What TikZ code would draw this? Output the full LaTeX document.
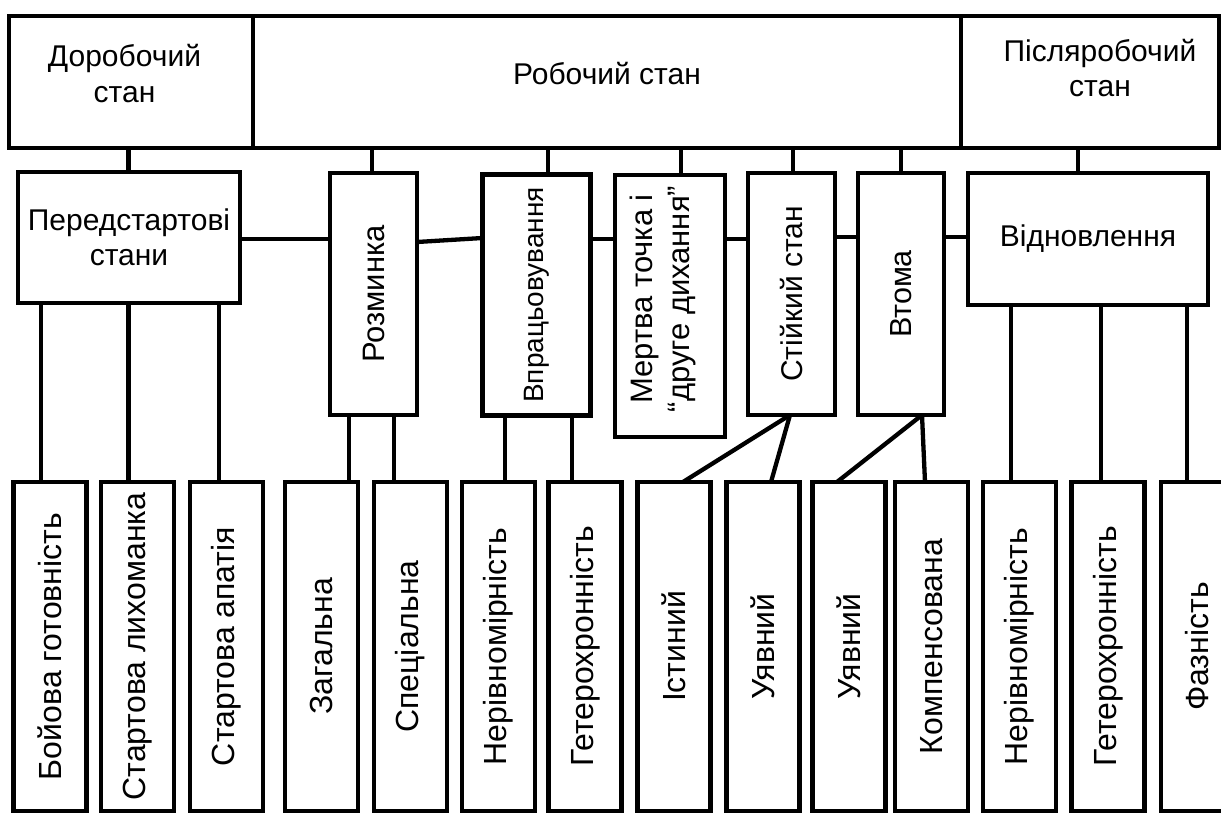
\documentclass[tikz,border=0pt]{standalone}
\usepackage{fontspec}
\setmainfont{Liberation Sans}
\usepackage{graphicx}
\newcommand\fsz{\fontsize{30}{35.5}\selectfont}
\newcommand\fbig{\fontsize{32}{37}\selectfont}
\newcommand\rtx[1]{\rotatebox{90}{#1}}
\begin{document}
\begin{tikzpicture}[x=1pt,y=-1pt,
  bx/.style={draw,line width=4.5pt,inner sep=0pt,outer sep=0pt,align=center,font=\fsz},
  bot/.style={bx,minimum width=73pt,minimum height=329pt,font=\fbig},
  ln/.style={line width=4.3pt},
  txt/.style={inner sep=0pt,align=center,font=\fsz}]
\useasboundingbox (0,0) rectangle (1221,813);
% top band
\node[bx,minimum width=244pt,minimum height=132pt] (dor) at (131,82) {};
\node[bx,minimum width=708pt,minimum height=132pt] (rob) at (607,82) {};
\node[bx,minimum width=258pt,minimum height=132pt] (pisl) at (1090,82) {};
\node[txt] (tdor) at (124.5,73.5) {Доробочий\\стан};
\node[txt] (trob) at (607,74) {Робочий стан};
\node[txt] (tpisl) at (1100,68) {Післяробочий\\стан};
% second row
\node[bx,minimum width=222pt,minimum height=131pt] (pered) at (129,237.5) {Передстартові\\стани};
\node[bx,minimum width=87pt,minimum height=242pt] (rozm) at (373.5,294) {\rtx{\fontsize{31}{36}\selectfont Розминка}};
\node[bx,minimum width=108pt,minimum height=241pt] (vprac) at (536.5,295) {\rtx{\fontsize{28}{32}\selectfont Впрацьовування}};
\node[bx,minimum width=110pt,minimum height=262pt] (mert) at (670,306) {};
\node[txt,rotate=90,font=\fontsize{31}{36.5}\selectfont] (tmert) at (663,299) {Мертва точка і\\“друге дихання”};
\node[bx,minimum width=87pt,minimum height=242pt] (stiik) at (791.5,294) {\rtx{Стійкий стан}};
\node[bx,minimum width=86pt,minimum height=242pt] (vtoma) at (901,294) {\rtx{\fontsize{30.5}{36}\selectfont Втома}};
\node[bx,minimum width=240pt,minimum height=132pt] (vidn) at (1088,239) {Відновлення};
% bottom row
\node[bot] (b1) at (50,646.5) {\rtx{Бойова готовність}};
\node[bot] (b2) at (137.5,646.5) {\rtx{Стартова лихоманка}};
\node[bot] (b3) at (226.5,646.5) {\rtx{Стартова апатія}};
\node[bot] (b4) at (321.5,646.5) {\rtx{Загальна}};
\node[bot] (b5) at (410.5,646.5) {\rtx{Спеціальна}};
\node[bot] (b6) at (498.5,646.5) {\rtx{Нерівномірність}};
\node[bot] (b7) at (585,646.5) {\rtx{Гетерохронність}};
\node[bot] (b8) at (674,646.5) {\rtx{Істиний}};
\node[bot] (b9) at (763,646.5) {\rtx{Уявний}};
\node[bot] (b10) at (849,646.5) {\rtx{Уявний}};
\node[bot] (b11) at (931.5,646.5) {\rtx{Компенсована}};
\node[bot] (b12) at (1019.5,646.5) {\rtx{Нерівномірність}};
\node[bot] (b13) at (1108,646.5) {\rtx{Гетерохронність}};
\node[bot] (b14) at (1197.5,646.5) {\rtx{Фазність}};
% top band to second row
\draw[ln] (dor.south -| 128.5,0) -- (pered.north -| 128.5,0);
\draw[ln] (rob.south -| 372,0) -- (rozm.north -| 372,0);
\draw[ln] (rob.south -| 548,0) -- (vprac.north -| 548,0);
\draw[ln] (rob.south -| 681,0) -- (mert.north -| 681,0);
\draw[ln] (rob.south -| 793,0) -- (stiik.north -| 793,0);
\draw[ln] (rob.south -| 901,0) -- (vtoma.north -| 901,0);
\draw[ln] (pisl.south -| 1078,0) -- (vidn.north -| 1078,0);
% horizontal chain
\draw[ln] (pered.east |- 0,239) -- (rozm.west |- 0,239);
\draw[ln] (rozm.east |- 0,242) -- (vprac.west |- 0,238);
\draw[ln] (vprac.east |- 0,239) -- (mert.west |- 0,239);
\draw[ln] (mert.east |- 0,239) -- (stiik.west |- 0,239);
\draw[ln] (stiik.east |- 0,237) -- (vtoma.west |- 0,237);
\draw[ln] (vtoma.east |- 0,237) -- (vidn.west |- 0,237);
% second row to bottom row
\draw[ln] (pered.south -| 41,0) -- (b1.north -| 41,0);
\draw[ln] (pered.south -| 128.5,0) -- (b2.north -| 128.5,0);
\draw[ln] (pered.south -| 219,0) -- (b3.north -| 219,0);
\draw[ln] (rozm.south -| 349,0) -- (b4.north -| 349,0);
\draw[ln] (rozm.south -| 394,0) -- (b5.north -| 394,0);
\draw[ln] (vprac.south -| 505,0) -- (b6.north -| 505,0);
\draw[ln] (vprac.south -| 572,0) -- (b7.north -| 572,0);
\draw[ln] (stiik.south -| 790,0) -- (b8.north -| 683,0);
\draw[ln] (stiik.south -| 790,0) -- (b9.north -| 771,0);
\draw[ln] (vtoma.south -| 922,0) -- (b10.north -| 837,0);
\draw[ln] (vtoma.south -| 922,0) -- (b11.north -| 925,0);
\draw[ln] (vidn.south -| 1011,0) -- (b12.north -| 1011,0);
\draw[ln] (vidn.south -| 1101,0) -- (b13.north -| 1101,0);
\draw[ln] (vidn.south -| 1187,0) -- (b14.north -| 1187,0);
\end{tikzpicture}
\end{document}
